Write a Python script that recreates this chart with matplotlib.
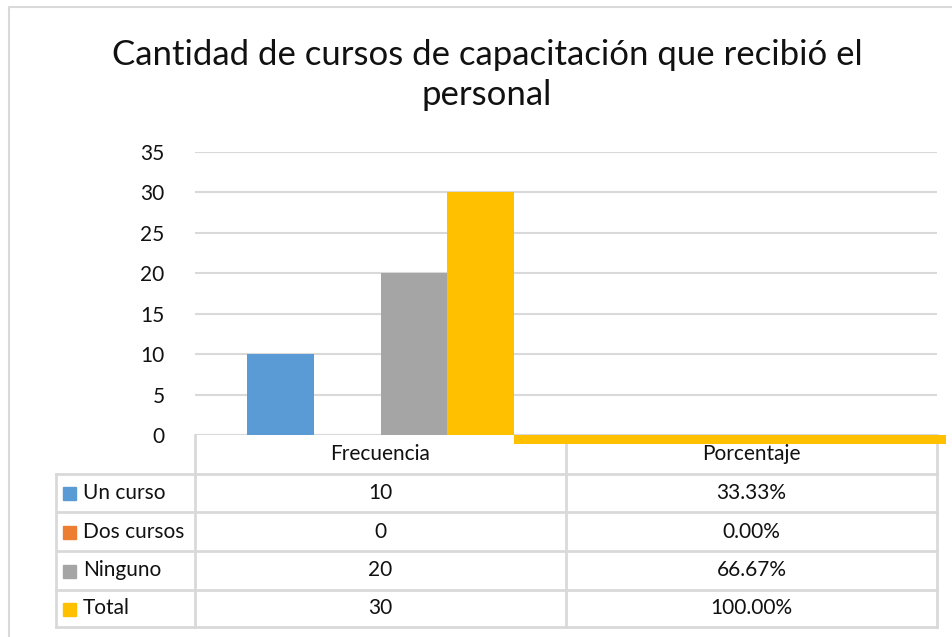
import matplotlib.pyplot as plt
import numpy as np
from matplotlib.patches import Rectangle

plt.rcParams["font.family"] = ["Lato", "DejaVu Sans"]

# datos
title = "Cantidad de cursos de capacitación que recibió el\npersonal"
categories = ["Frecuencia", "Porcentaje"]
series_names = ["Un curso", "Dos cursos", "Ninguno", "Total"]
frecuencia = [10, 0, 20, 30]
porcentaje = [0.3333, 0.0, 0.6667, 1.0]
porcentaje_labels = ["33.33%", "0.00%", "66.67%", "100.00%"]
colors = ["#5B9BD5", "#ED7D31", "#A5A5A5", "#FFC000"]
grid_color = "#D9D9D9"
text_color = "#111111"

W, H = 953, 637
fig = plt.figure(figsize=(W / 100, H / 100), dpi=100)

# fondo en pixeles para el marco y la tabla
bg = fig.add_axes([0, 0, 1, 1])
bg.set_xlim(0, W)
bg.set_ylim(H, 0)
bg.axis("off")
bg.plot([9, 9, W], [H, 7, 7], color=grid_color, lw=1.5)

# area del grafico
px_l, px_r, px_top, px_zero = 195, 937, 152, 435
ax = fig.add_axes([px_l / W, 1 - px_zero / H, (px_r - px_l) / W, (px_zero - px_top) / H])
ax.set_xlim(-0.5, 1.5)
ax.set_ylim(0, 35)
ax.set_yticks(np.arange(0, 36, 5))
ax.set_xticks([])
ax.yaxis.grid(True, color=grid_color, lw=1.5)
ax.set_axisbelow(True)
for s in ax.spines.values():
    s.set_visible(False)
ax.tick_params(axis="y", length=0, labelsize=15, pad=22)
for lbl in ax.get_yticklabels():
    lbl.set_color(text_color)

bw = 0.18
offsets = (np.arange(len(series_names)) - 1.5) * bw
for i, name in enumerate(series_names):
    ax.bar(0 + offsets[i], frecuencia[i], width=bw, color=colors[i], zorder=2)

# franja amarilla del total en porcentaje (como en la imagen original)
strip_left = 0 + offsets[-1] + bw / 2
strip_right = 1.5 + 0.025
ax.bar(strip_left, -porcentaje[-1] * 1.1, width=strip_right - strip_left, align="edge",
       bottom=0, color=colors[-1], clip_on=False, zorder=3)
ax.axhline(0, color=grid_color, lw=1.5, zorder=1)

fig.text(0.511, 1 - 75 / H, title, ha="center", va="center", multialignment="center",
         fontsize=25, linespacing=1.28, color=text_color)

# tabla de datos
col_x = [56, 195, 566, 937]
row_y = [435, 474, 512, 551, 590, 627]
lc = dict(color=grid_color, lw=2)
for x in col_x[1:]:
    bg.plot([x, x], [row_y[0], row_y[-1]], **lc)
bg.plot([col_x[0], col_x[0]], [row_y[1], row_y[-1]], **lc)
for y in row_y[1:]:
    bg.plot([col_x[0], col_x[-1]], [y, y], **lc)

fs = 15
for j, cat in enumerate(categories):
    cx = (col_x[j + 1] + col_x[j + 2]) / 2
    bg.text(cx, (row_y[0] + row_y[1]) / 2, cat, ha="center", va="center", fontsize=fs, color=text_color)

for i, name in enumerate(series_names):
    cy = (row_y[i + 1] + row_y[i + 2]) / 2
    bg.add_patch(Rectangle((63, cy - 6), 13, 13, color=colors[i]))
    bg.text(83, cy, name, ha="left", va="center", fontsize=fs, color=text_color)
    bg.text((col_x[1] + col_x[2]) / 2, cy, str(frecuencia[i]), ha="center", va="center",
            fontsize=fs, color=text_color)
    bg.text((col_x[2] + col_x[3]) / 2, cy, porcentaje_labels[i], ha="center", va="center",
            fontsize=fs, color=text_color)

fig.savefig("out.png", dpi=100)
